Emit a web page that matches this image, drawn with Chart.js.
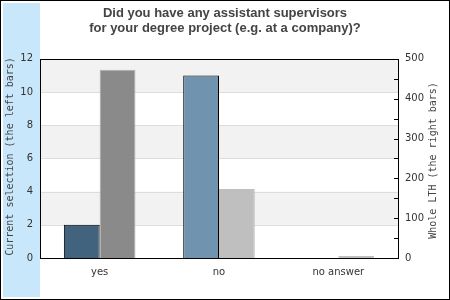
<!DOCTYPE html>
<html>
<head>
<meta charset="utf-8">
<script src="https://cdn.jsdelivr.net/npm/chart.js@4"></script>
<style>
  body { margin: 0; background: #fff; }
  #wrap { width: 450px; height: 300px; }
</style>
</head>
<body>
<div id="wrap"><canvas id="chart" width="450" height="300"></canvas></div>
<script>
const categories = ['yes', 'no', 'no answer'];
const currentSelection = [2, 11, 0];
const wholeLTH = [473, 173, 5];
const leftTicks = [0, 2, 4, 6, 8, 10, 12];
const rightTicks = [0, 100, 200, 300, 400, 500];
const titleLines = ['Did you have any assistant supervisors', 'for your degree project (e.g. at a company)?'];
const leftTitle = 'Current selection (the left bars)';
const rightTitle = 'Whole LTH (the right bars)';

const TEXT = '#333';
const SANS = '"DejaVu Sans", sans-serif';
const MONO = '"DejaVu Sans Mono", monospace';

// frame, blue strip, striped plot background, border, minor ticks, rotated titles
const decor = {
    id: 'decor',
    beforeDraw(chart) {
        const ctx = chart.ctx;
        ctx.save();
        ctx.fillStyle = '#fff';
        ctx.fillRect(0, 0, 450, 300);
        ctx.fillStyle = '#c8e7fb';
        ctx.fillRect(3, 3, 37, 294);
        ctx.strokeStyle = '#000';
        ctx.lineWidth = 1;
        ctx.strokeRect(0.5, 0.5, 449, 299);
        ctx.restore();
    },
    beforeDatasetsDraw(chart) {
        const { ctx, chartArea: a } = chart;
        const y = chart.scales.y;
        ctx.save();
        const ticks = leftTicks.slice().reverse();
        for (let i = 0; i < ticks.length - 1; i++) {
            if (i % 2 === 0) {
                const top = y.getPixelForValue(ticks[i]);
                const bot = y.getPixelForValue(ticks[i + 1]);
                ctx.fillStyle = '#f2f2f2';
                ctx.fillRect(a.left, top, a.right - a.left, bot - top);
            }
        }
        ctx.strokeStyle = '#dddddd';
        ctx.lineWidth = 1;
        leftTicks.forEach(v => {
            const py = Math.round(y.getPixelForValue(v)) + 0.5;
            ctx.beginPath();
            ctx.moveTo(a.left, py);
            ctx.lineTo(a.right, py);
            ctx.stroke();
        });
        ctx.restore();
    },
    afterDatasetsDraw(chart) {
        const { ctx, chartArea: a } = chart;
        const y1 = chart.scales.y1;
        ctx.save();
        ctx.strokeStyle = '#000';
        ctx.lineWidth = 1;
        ctx.strokeRect(Math.round(a.left) + 0.5, Math.round(a.top) + 0.5,
            Math.round(a.right - a.left), Math.round(a.bottom - a.top));
        for (let v = 50; v < 500; v += 50) {
            const py = Math.round(y1.getPixelForValue(v)) + 0.5;
            ctx.beginPath();
            ctx.moveTo(a.right - 4, py);
            ctx.lineTo(a.right, py);
            ctx.stroke();
        }
        ctx.fillStyle = '#444';
        ctx.font = '10px ' + MONO;
        ctx.textAlign = 'center';
        ctx.textBaseline = 'middle';
        const midY = (a.top + a.bottom) / 2;
        ctx.translate(10, midY - 2);
        ctx.rotate(-Math.PI / 2);
        ctx.fillText(leftTitle, 0, 0);
        ctx.setTransform(1, 0, 0, 1, 0, 0);
        ctx.translate(433, midY + 2);
        ctx.rotate(-Math.PI / 2);
        ctx.fillText(rightTitle, 0, 0);
        ctx.restore();
    }
};

new Chart(document.getElementById('chart'), {
    type: 'bar',
    data: {
        labels: categories,
        datasets: [{
            data: currentSelection,
            yAxisID: 'y',
            backgroundColor: ['#42637e', '#7094b0', '#7094b0'],
            borderColor: '#000',
            borderWidth: 1,
            borderSkipped: 'bottom'
        }, {
            data: wholeLTH,
            yAxisID: 'y1',
            backgroundColor: ['#8a8a8a', '#bfbfbf', '#bfbfbf'],
            borderColor: ['#aaaaaa', '#bfbfbf', '#bfbfbf'],
            borderWidth: 1,
            borderSkipped: 'bottom'
        }]
    },
    options: {
        responsive: false,
        animation: false,
        layout: { padding: { top: 0, left: 0, right: 0, bottom: 0 } },
        categoryPercentage: 0.6,
        barPercentage: 1,
        plugins: {
            legend: { display: false },
            tooltip: { enabled: false },
            title: {
                display: true,
                text: titleLines,
                color: '#444',
                font: { family: '"Liberation Sans", Arial, sans-serif', size: 13, weight: 'bold', lineHeight: 1.15 },
                padding: { top: 6, bottom: 23 }
            }
        },
        scales: {
            x: {
                grid: { display: false, drawTicks: false },
                border: { display: false },
                ticks: { color: TEXT, font: { family: SANS, size: 10 }, padding: 8 },
                afterFit: s => { s.height = 42; }
            },
            y: {
                position: 'left',
                min: 0, max: 12,
                afterBuildTicks: s => { s.ticks = leftTicks.map(v => ({ value: v })); },
                grid: { display: false, drawTicks: false },
                border: { display: false },
                ticks: { color: TEXT, font: { family: SANS, size: 10 }, padding: 7 },
                afterFit: s => { s.width = 40; }
            },
            y1: {
                position: 'right',
                min: 0, max: 500,
                afterBuildTicks: s => { s.ticks = rightTicks.map(v => ({ value: v })); },
                grid: { display: false, drawTicks: false },
                border: { display: false },
                ticks: { color: TEXT, font: { family: SANS, size: 10 }, padding: 7 },
                afterFit: s => { s.width = 52; }
            }
        }
    },
    plugins: [decor]
});
</script>
</body>
</html>
